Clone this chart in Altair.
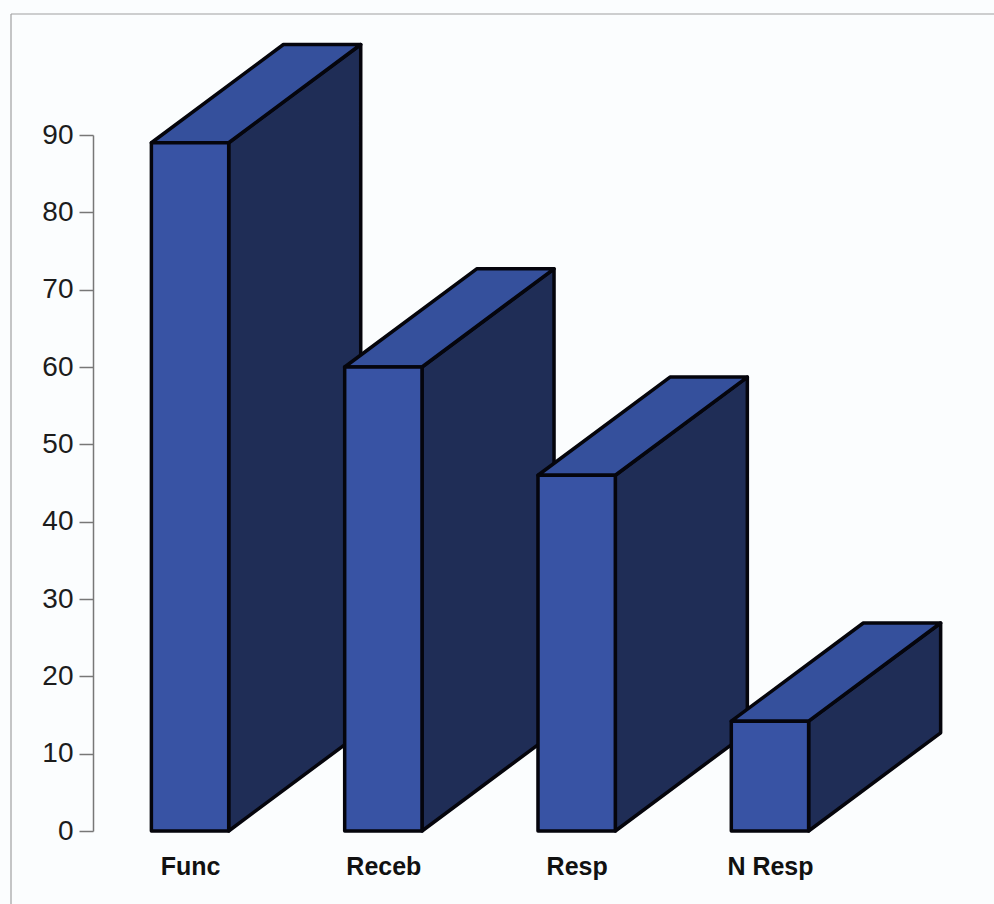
import json
import altair as alt
import pandas as pd

# Survey counts per category
categories = ["Func", "Receb", "Resp", "N Resp"]
values = [89, 60, 46, 14.2]
y_ticks = [0, 10, 20, 30, 40, 50, 60, 70, 80, 90]

# Extrusion of the pseudo-3D boxes, in axis units
BAR_WIDTH = 0.4
DEPTH_X = 0.683
DEPTH_Y = 12.7

X_DOMAIN = [-0.502, 4.159]
INK = "#05050c"
FRONT = "#3853a4"
SIDE = "#1f2d56"
TOP = "#35509c"
FONT = "Liberation Sans"

x_scale = alt.Scale(domain=X_DOMAIN, nice=False, zero=False)
y_scale = alt.Scale(domain=[0, 90], nice=False, zero=False)

label_expr = f"{json.dumps(categories)}[datum.value]"
x_axis = alt.Axis(
    values=list(range(len(categories))), labelExpr=label_expr, title=None,
    domain=False, ticks=False, grid=False, labelPadding=23, labelAngle=0,
    labelFont=FONT, labelFontSize=25, labelFontWeight="bold", labelColor="#111111",
)
y_axis = alt.Axis(
    values=y_ticks, title=None, grid=False, domainColor="#777777", domainWidth=1.5,
    tickColor="#777777", tickWidth=1.5, tickSize=14, labelPadding=6,
    labelFont=FONT, labelFontSize=28, labelColor="#1c1c1c",
)

stroke = dict(stroke=INK, strokeWidth=3.5, strokeJoin="round")
layers = []

# Page frame: only its top and left edges fall inside the canvas
frame = pd.DataFrame({"x": [0]})
layers.append(alt.Chart(frame).mark_rule(color="#a0a0a0", strokeWidth=1.2, clip=False).encode(
    x=alt.value(-82), x2=alt.value(901), y=alt.value(-121)))
layers.append(alt.Chart(frame).mark_rule(color="#a0a0a0", strokeWidth=1.2, clip=False).encode(
    x=alt.value(-82), y=alt.value(-121), y2=alt.value(769)))

# Boxes are painted left to right so each front face overlaps its neighbour's side
for i, (name, v) in enumerate(zip(categories, values)):
    left = i - BAR_WIDTH / 2
    right = i + BAR_WIDTH / 2
    side = pd.DataFrame({
        "x": [right, right + DEPTH_X],
        "low": [0, DEPTH_Y],
        "high": [v, v + DEPTH_Y],
    })
    top = pd.DataFrame({
        "y": [v, v + DEPTH_Y],
        "start": [left, left + DEPTH_X],
        "end": [right, right + DEPTH_X],
    })
    front = pd.DataFrame({"x": [left], "x2": [right], "y": [0], "y2": [v]})

    layers.append(alt.Chart(side).mark_area(color=SIDE, **stroke).encode(
        x=alt.X("x:Q", scale=x_scale, axis=x_axis),
        y=alt.Y("low:Q", scale=y_scale, axis=y_axis),
        y2="high:Q",
    ))
    layers.append(alt.Chart(top).mark_area(color=TOP, orient="horizontal", **stroke).encode(
        y=alt.Y("y:Q", scale=y_scale, axis=y_axis),
        x=alt.X("start:Q", scale=x_scale, axis=x_axis),
        x2="end:Q",
    ))
    layers.append(alt.Chart(front).mark_rect(color=FRONT, **stroke).encode(
        x=alt.X("x:Q", scale=x_scale, axis=x_axis),
        x2="x2:Q",
        y=alt.Y("y:Q", scale=y_scale, axis=y_axis),
        y2="y2:Q",
    ))

chart = alt.layer(*layers).properties(
    width=901,
    height=696,
    background="#fbfdfe",
    padding={"left": 93, "top": 135, "right": 0, "bottom": 73},
    autosize=alt.AutoSizeParams(type="none"),
).configure_view(stroke=None)

chart.save("out.html", embed_options={"renderer": "svg", "actions": False})
